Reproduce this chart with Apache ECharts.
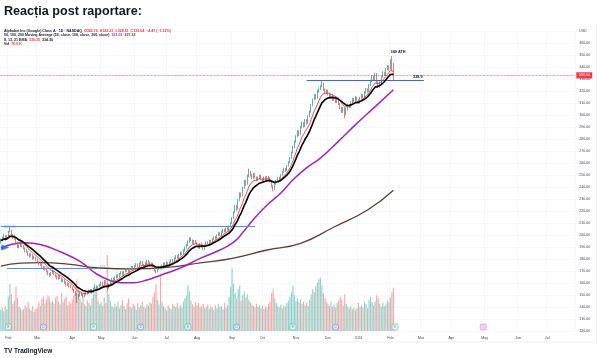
<!DOCTYPE html>
<html><head><meta charset="utf-8">
<script src="https://cdn.jsdelivr.net/npm/echarts/dist/echarts.min.js"></script>
<style>html,body{margin:0;padding:0;background:#fff}#c{width:600px;height:358px}</style>
</head><body><div id="c"></div>
<script>
// ---- categories (trading days) ----
const startDate = [2023, 0, 25];
const barCount = 378;
const holidays = ['2023-02-20','2023-04-07','2023-05-29','2023-06-19','2023-07-04','2023-09-04','2023-11-23','2023-12-25',
  '2024-01-01','2024-01-15','2024-02-19','2024-03-29','2024-05-27','2024-06-19','2024-07-04'];
const monthNames = ['Jan','Feb','Mar','Apr','May','Jun','Jul','Aug','Sep','Oct','Nov','Dec'];

// ---- price data (daily) ----
const opens = [193.8,195.9,197.4,199.1,196.8,199.5,204.2,203.6,199.8,197.1,
197.8,193.0,189.6,191.0,192.4,190.1,189.3,185.8,185.9,183.4,
183.1,183.2,180.6,181.2,179.6,177.2,175.0,176.1,173.5,171.1,
172.2,169.8,166.7,166.3,168.0,169.6,167.5,165.8,163.5,165.7,
164.4,161.2,162.5,160.6,158.4,159.2,157.8,156.7,154.3,152.9,
150.8,147.4,149.2,151.5,150.6,148.9,150.5,152.8,151.4,153.2,
154.6,152.4,155.7,157.3,154.9,157.2,158.1,160.6,158.7,161.8,
159.4,156.0,159.2,161.0,163.8,162.4,164.5,166.6,165.3,167.1,
169.2,166.5,169.5,171.8,170.6,168.9,171.6,173.7,172.4,173.8,
175.9,173.5,176.0,177.8,175.4,173.9,176.5,178.6,177.3,174.6,
176.4,173.5,170.1,169.4,171.5,173.8,172.0,174.3,176.6,175.5,
177.2,174.5,177.0,179.4,178.0,180.3,182.7,180.8,183.4,185.5,
184.4,187.0,189.3,191.5,194.2,197.5,195.9,193.1,195.4,193.7,
192.1,189.2,192.9,190.6,188.4,191.1,194.1,192.2,195.5,193.8,
196.3,198.6,196.7,199.5,201.8,199.9,202.4,204.6,202.8,205.9,
204.1,206.9,209.8,214.3,219.0,224.3,221.8,229.2,234.6,233.0,
239.4,245.1,242.6,249.2,252.7,249.9,247.5,250.9,248.4,245.6,
247.1,249.5,246.9,245.0,248.2,246.0,248.7,247.4,245.1,240.9,
238.0,242.6,244.8,247.9,246.0,250.1,252.9,255.2,254.1,257.9,
260.6,264.2,268.7,273.2,277.8,282.1,286.5,284.0,289.8,293.5,
290.7,295.7,293.4,299.1,302.8,308.3,313.0,316.6,314.3,319.9,
321.5,323.9,326.4,321.1,318.4,320.5,317.2,314.6,316.6,312.5,
314.9,310.9,314.0,309.1,306.4,302.5,305.8,300.5,304.6,308.6,
306.4,310.7,313.5,311.5,314.8,312.6,310.3,313.6,316.7,314.8,
318.4,321.6,319.5,324.9,328.5,332.0,329.2,334.4,327.1,323.5,
326.6,331.8,335.5,333.3,338.2,340.7,338.5,344.9,342.76];
const highs = [196.9,198.6,201.2,199.8,199.9,203.6,207.05,204.4,200.9,200.3,
198.2,194.1,192.2,193.9,193.1,191.4,189.8,188.3,186.4,184.7,
185.2,183.9,182.7,182.0,180.3,178.1,177.8,176.6,174.2,173.9,
172.9,170.4,168.2,169.1,171.2,170.3,168.0,166.4,166.9,166.5,
164.9,163.8,163.1,161.3,160.5,159.9,158.6,157.3,155.2,153.6,
151.4,150.6,152.9,152.3,151.1,151.8,153.3,153.4,154.5,155.1,
155.0,156.2,159.1,158.0,157.7,159.4,161.3,161.1,162.4,162.3,
160.1,159.7,162.0,164.3,164.4,165.6,167.2,167.1,168.3,169.8,
169.7,170.1,172.4,172.3,171.1,172.7,174.2,174.3,174.9,176.5,
176.4,177.1,178.4,178.3,175.9,177.6,179.2,179.1,177.8,176.9,
176.8,174.0,171.0,172.6,174.3,174.4,175.4,177.1,177.2,177.8,
177.6,178.1,179.9,179.9,181.4,183.2,183.1,184.5,186.1,186.0,
188.2,190.4,192.7,195.4,198.3,198.0,196.3,195.9,196.0,194.3,
192.6,193.4,193.5,191.1,192.2,194.6,194.7,196.0,196.1,197.4,
199.1,199.2,200.6,202.3,202.4,203.5,205.1,205.2,206.4,206.5,
208.0,210.3,214.9,219.7,225.1,225.0,229.8,235.6,235.4,240.1,
245.9,246.0,250.2,255.3,253.4,251.0,251.7,251.5,249.0,248.5,
250.3,250.1,247.5,248.8,248.7,249.3,249.1,247.9,245.6,241.5,
243.8,245.9,248.4,248.5,250.7,253.4,256.0,255.9,258.5,261.4,
265.0,269.6,274.1,278.8,283.1,287.5,287.2,290.7,294.6,294.2,
296.5,296.4,299.9,303.6,309.1,313.8,317.5,317.3,320.8,323.1,
324.9,328.9,327.1,322.0,321.5,321.1,318.0,317.5,317.2,315.8,
315.5,314.9,314.6,310.0,307.0,306.7,306.4,306.1,309.5,309.2,
311.6,314.4,314.1,315.7,315.4,313.2,315.1,317.6,317.3,319.9,
322.5,322.2,325.8,329.4,332.9,332.7,335.3,335.0,328.0,328.1,
332.7,336.4,336.1,339.1,341.6,341.3,346.5,349.0,343.21];
const lows = [192.7,194.8,196.9,195.3,195.9,198.7,202.1,199.2,196.5,196.2,
191.6,189.2,188.7,190.2,189.7,188.2,185.4,185.1,182.6,181.3,
181.9,179.5,179.8,178.4,176.9,174.6,174.3,172.4,170.8,170.4,
168.7,166.5,165.1,165.7,167.4,166.4,164.6,162.9,162.8,163.2,
160.8,160.5,159.4,157.2,157.6,156.3,155.4,153.9,151.7,149.4,
143.2,146.3,148.5,149.1,147.6,148.0,149.8,150.2,150.7,152.3,
151.1,151.6,154.8,153.5,154.1,156.5,157.4,157.5,158.0,158.9,
153.8,155.2,158.4,160.3,161.3,161.7,163.8,164.2,164.6,166.5,
165.9,165.8,168.8,169.4,167.8,168.2,170.9,171.2,171.6,173.1,
172.9,172.8,175.3,174.2,172.7,173.2,175.8,176.1,174.0,173.8,
172.3,169.6,167.9,168.7,170.8,171.4,171.3,173.6,174.9,174.8,
173.9,173.8,176.3,177.3,177.4,179.6,180.2,180.1,182.7,183.2,
183.7,186.3,188.6,190.8,193.6,194.7,192.5,192.4,193.1,190.9,
188.6,188.5,189.4,187.8,187.7,190.4,191.6,191.5,193.2,193.1,
195.6,196.1,196.0,198.8,199.3,199.2,201.7,202.2,202.1,203.5,
203.4,206.2,209.1,213.5,218.2,220.3,221.1,228.4,231.2,232.2,
238.6,241.0,241.8,248.3,248.6,246.7,246.8,247.2,244.8,244.9,
246.4,245.8,244.2,244.3,245.3,245.4,246.2,243.9,239.7,236.4,
237.4,241.9,244.1,245.4,245.4,249.5,252.1,252.6,253.4,257.0,
259.8,263.5,267.9,272.4,276.9,281.3,282.4,283.2,288.9,289.6,
289.9,292.0,292.6,298.2,301.9,307.4,312.1,312.8,313.5,318.6,
320.7,323.1,320.3,317.4,317.6,316.3,313.7,313.9,311.6,311.8,
310.0,310.2,308.2,304.9,301.6,301.8,297.4,299.7,303.9,305.5,
305.7,309.9,310.6,310.8,311.7,309.4,309.6,312.9,313.9,314.1,
317.7,318.6,318.8,324.1,327.6,328.3,328.5,326.2,322.6,322.8,
325.9,331.0,332.4,332.6,337.4,336.9,337.8,336.8,328.51];
const closes = [195.5,197.8,199.6,196.4,199.2,202.8,205.1,200.3,197.6,199.0,
192.4,190.1,191.3,192.8,190.6,188.9,186.2,187.4,183.1,182.5,
184.0,180.2,181.5,179.3,177.8,175.4,176.9,173.2,171.6,172.8,
169.5,167.3,165.9,168.4,170.1,167.2,165.4,163.8,166.1,164.0,
161.7,162.9,160.3,158.1,159.6,157.2,156.4,154.8,152.6,150.3,
146.9,149.5,151.8,150.2,148.7,150.9,152.4,151.1,153.6,154.2,
152.0,155.3,157.8,154.6,156.9,158.5,160.2,158.4,161.5,159.8,
156.3,158.9,161.2,163.5,162.1,164.8,166.3,165.0,167.4,168.9,
166.8,169.2,171.5,170.3,168.7,171.9,173.4,172.1,174.0,175.6,
173.8,176.2,177.5,175.1,173.6,176.8,178.3,177.0,174.9,176.1,
173.2,170.4,169.1,171.8,173.5,172.2,174.6,176.3,175.8,176.9,
174.8,177.3,179.1,178.2,180.6,182.4,181.0,183.7,185.2,184.1,
187.3,189.6,191.8,194.5,197.2,195.6,193.4,195.1,194.0,191.8,
189.5,192.6,190.3,188.7,191.4,193.8,192.5,195.2,194.1,196.6,
198.3,197.0,199.8,201.5,200.2,202.7,204.3,203.1,205.6,204.4,
207.2,209.5,213.8,218.6,223.9,221.4,228.7,234.2,232.5,238.9,
244.6,242.1,248.7,252.3,249.5,247.8,250.6,248.1,245.9,247.4,
249.2,246.7,245.3,247.9,246.2,248.4,247.1,244.8,240.6,238.2,
242.9,245.1,247.6,246.3,249.8,252.6,254.9,253.8,257.6,260.3,
263.9,268.4,272.9,277.5,281.8,286.2,283.7,289.5,293.2,290.8,
295.3,293.1,298.7,302.4,307.9,312.6,316.2,314.0,319.5,321.8,
323.6,326.0,321.4,318.7,320.2,317.5,314.9,316.3,312.8,314.6,
311.2,313.7,309.4,306.1,302.8,305.5,300.2,304.9,308.3,306.7,
310.4,313.2,311.8,314.5,312.9,310.6,313.9,316.4,315.1,318.7,
321.3,319.8,324.6,328.2,331.7,329.5,334.1,327.4,323.8,326.9,
331.5,335.2,333.6,337.9,340.4,338.1,345.2,337.51,333.04];
const volumes = [28,31,26,33,29, 45,62,48,36,40, 58,44,32,30,27, 29,34,31,38,30, 27,33,25,29,31,
38,33,42,45,36, 41,47,44,38,40, 36,43,46,39,35, 50,38,42,45,34, 39,36,41,47,52,
68,56,43,38,46, 35,33,40,37,34, 43,49,58,52,40, 35,38,33,44,37, 100,48,40,33,31,
36,32,38,30,34, 41,33,29,37,43, 32,30,36,33,28, 37,31,34,39,32, 30,35,33,38,36,
45,51,62,41,35, 72,38,33,30,27, 34,31,29,36,33, 32,37,30,34,31, 39,43,47,60,52,
40,35,32,38,34, 37,31,33,36,30, 32,35,29,33,31, 28,34,30,36,32, 33,29,37,31,34,
45,58,82,62,50, 43,55,60,40,47, 52,44,48,41,38, 35,33,31,36,32, 34,30,33,29,32,
31,36,39,50,55, 43,37,33,31,35, 30,34,32,37,40, 45,51,60,47,39, 43,38,41,36,39,
34,37,33,41,48, 55,51,59,64,68, 70,60,50,43,38, 36,33,39,32,35, 31,37,40,45,41,
34,48,36,32,30, 33,29,31,28,30, 37,32,34,31,39, 36,30,41,45,38, 34,39,47,43,36,
32,37,33,35,40, 38,44,51,57];

// ---- moving averages: [bar index, value] ----
const ma50Points = [[0,189],[16,193.5],[26,192],[39,186],[52,178],[63,167.5],[72,162],[79,160.3],[87,160.2],
  [96,162.5],[105,166.5],[118,172.5],[131,180.5],[144,187.5],[153,194],[159,202],[166,213],[175,225],
  [184,235],[192,246],[201,256],[210,264],[221,277],[234,293],[246,307],[258,321.02]];
const ma200Points = [[0,174],[13,176.5],[26,177],[44,175.8],[65,172.5],[87,171.7],[109,173],[131,176.7],
  [153,180.8],[175,187.5],[197,193],[219,206.7],[241,220.8],[258,237.22]];

// ---- annotations ----
const squareEvents = [5, 61, 123, 192, 259];
const circleEvents = [28, 92, 155, 220];
const futureEvents = [317];
const priceTickMin = 120, priceTickMax = 370, priceTickStep = 10;

// build categories
const dates = [];
(function(){
  let t = Date.UTC(startDate[0], startDate[1], startDate[2]);
  while (dates.length < barCount) {
    const d = new Date(t); const wd = d.getUTCDay(); const s = d.toISOString().slice(0,10);
    if (wd !== 0 && wd !== 6 && holidays.indexOf(s) < 0) dates.push(s);
    t += 86400000;
  }
})();
const isMonthStart = dates.map((s,i) => i > 0 && s.slice(5,7) !== dates[i-1].slice(5,7));

function ema(arr, n) {
  const k = 2/(n+1); const out = []; let prev;
  arr.forEach((v,i) => { prev = i === 0 ? v : v*k + prev*(1-k); out.push(+prev.toFixed(2)); });
  return out;
}
const ema8 = ema(closes, 8), ema13 = ema(closes, 13);
const upColor = '#26a69a', downColor = '#ef5350';
const FONT = 'Liberation Sans';

const candleData = closes.map((c,i) => [opens[i], c, lows[i], highs[i]]);
const volData = volumes.map((v,i) => ({value: v, itemStyle: {color: closes[i] >= opens[i] ? 'rgba(38,166,154,0.5)' : 'rgba(239,83,80,0.5)'}}));
const toPairs = pts => pts.map(p => [dates[p[0]], p[1]]);

const LFS = 3.6;
const txt = (c) => ({fontSize: LFS, color: c, fontFamily: FONT, lineHeight: 4.4});
const legendStyle = (rich) => ({fontSize: LFS, lineHeight: 4.4, fontFamily: FONT, color: '#131722', rich: rich});

const chart = echarts.init(document.getElementById('c'), null, {renderer: 'canvas'});
chart.setOption({
  animation: false,
  backgroundColor: '#ffffff',
  title: [
    {text: 'Reacția post raportare:', left: 4, top: 5, padding: 0,
     textStyle: {fontFamily: FONT, fontSize: 12.6, fontWeight: 'bold', color: '#131722', lineHeight: 14}},
    {text: '{k|Alphabet Inc (Google) Class A · 1D · NASDAQ}  {r|O342.76  H343.21  L328.51  C333.04  −4.47 (−1.32%)}',
     left: 4, top: 28.8, padding: 0, textStyle: legendStyle({k: txt('#131722'), r: txt('#f23645')})},
    {text: '{k|50, 100, 200 Moving Average (50, close, 100, close, 200, close)}  {p|321.02}  {b|237.22}',
     left: 4, top: 33.1, padding: 0, textStyle: legendStyle({k: txt('#131722'), p: txt('#9c27b0'), b: txt('#5d4037')})},
    {text: '{k|8, 13, 21 EMA}  {r|336.35}  {k|334.36}',
     left: 4, top: 37.5, padding: 0, textStyle: legendStyle({k: txt('#131722'), r: txt('#f23645')})},
    {text: '{k|Vol}  {r|70.6 K}',
     left: 4, top: 41.8, padding: 0, textStyle: legendStyle({k: txt('#131722'), r: txt('#f23645')})},
    {text: 'TV TradingView', left: 4, top: 347, padding: 0,
     textStyle: {fontFamily: FONT, fontSize: 6.5, fontWeight: 'bold', color: '#131722', lineHeight: 8}}
  ],
  graphic: [
    {type: 'line', shape: {x1: 596.5, y1: 24, x2: 596.5, y2: 342}, style: {stroke: '#e0e3eb', lineWidth: 0.6}, silent: true},
    {type: 'line', shape: {x1: 0, y1: 342, x2: 596.5, y2: 342}, style: {stroke: '#e0e3eb', lineWidth: 0.6}, silent: true}
  ],
  grid: {left: 0, right: 24.7, top: 31, bottom: 27, outerBoundsMode: 'none', containLabel: false},
  xAxis: {
    type: 'category', data: dates, boundaryGap: true,
    axisLine: {show: false}, axisTick: {show: false},
    axisLabel: {interval: (i) => isMonthStart[i], fontSize: 3.6, color: '#434651', fontFamily: FONT, margin: 5,
      formatter: (v) => { const m = +v.slice(5,7) - 1; return m === 0 ? v.slice(0,4) : monthNames[m]; }},
    splitLine: {show: true, interval: (i) => isMonthStart[i], lineStyle: {color: '#f0f2f6', width: 0.6}}
  },
  yAxis: [
    {type: 'value', position: 'right', min: priceTickMin, max: priceTickMax, interval: priceTickStep, scale: false,
     axisLine: {show: false}, axisTick: {show: false},
     axisLabel: {fontSize: 3.6, color: '#434651', fontFamily: FONT, margin: 4, align: 'left',
       formatter: (v) => v === priceTickMax ? 'USD' : v.toFixed(2)},
     splitLine: {show: true, lineStyle: {color: '#f0f2f6', width: 0.6}}},
    {type: 'value', min: 0, max: 395, show: false, splitLine: {show: false}},
    {type: 'value', min: 0, max: 100, show: false, splitLine: {show: false}}
  ],
  series: [
    {type: 'bar', name: 'Vol', yAxisIndex: 1, data: volData, barCategoryGap: '25%', z: 1, silent: true},
    {type: 'line', name: 'MA200', data: toPairs(ma200Points), smooth: true, showSymbol: false, z: 2,
     lineStyle: {color: '#5d4037', width: 1.3}},
    {type: 'line', name: 'MA50', data: toPairs(ma50Points), smooth: true, showSymbol: false, z: 2,
     lineStyle: {color: '#9c27b0', width: 1.5}},
    {type: 'candlestick', name: 'Price', data: candleData, barWidth: '70%', z: 3,
     itemStyle: {color: upColor, color0: downColor, borderColor: upColor, borderColor0: downColor, borderWidth: 0.8},
     markLine: {
       symbol: 'none', silent: true, label: {show: false},
       data: [
         [{coord: [dates[0], 207.05], lineStyle: {color: '#5b8def', width: 1.2, type: 'solid'}}, {coord: [dates[167], 207.05]}],
         [{coord: [dates[4], 172.3], lineStyle: {color: '#5b8def', width: 1.2, type: 'solid'}}, {coord: [dates[65], 172.3]}],
         [{coord: [dates[201], 328.9], lineStyle: {color: '#3f66d6', width: 1, type: 'solid'}}, {coord: [dates[278], 328.9]}],
         {yAxis: 333.04, lineStyle: {color: '#f23645', type: 'dotted', width: 0.7},
          label: {show: true, position: 'end', distance: 1, formatter: '333.04', color: '#fff', backgroundColor: '#f23645',
            fontSize: 3.6, fontFamily: FONT, padding: [1.2, 2.5, 1, 2.5]}}
       ]
     },
     markPoint: {
       silent: true,
       data: [
         {coord: [dates[6], 207.05], symbol: 'rect', symbolSize: 0.1,
          label: {show: true, position: 'inside', formatter: '207.05', color: '#5b8def', fontSize: 3.8, fontFamily: FONT}},
         {coord: [dates[67], 173.3], symbol: 'rect', symbolSize: 0.1,
          label: {show: true, position: 'inside', formatter: '172', color: '#5b8def', fontSize: 3.2, fontFamily: FONT}},
         {coord: [dates[274], 331.3], symbol: 'rect', symbolSize: 0.1,
          label: {show: true, position: 'inside', formatter: '328.9', color: '#131722', fontWeight: 'bold', fontSize: 3.8, fontFamily: FONT}},
         {coord: [dates[261], 352.6], symbol: 'rect', symbolSize: 0.1,
          label: {show: true, position: 'inside', formatter: '349 ATH', color: '#131722', fontWeight: 'bold', fontSize: 3.8, fontFamily: FONT}},
         {coord: [dates[3], 189.5], symbol: 'path://M0,0 L10,5 L0,10 Z', symbolSize: [8, 6],
          itemStyle: {color: '#2962ff', opacity: 0.85}, label: {show: false}}
       ]
     }},
    {type: 'line', name: 'EMA8', data: ema8, showSymbol: false, z: 4, lineStyle: {color: '#f23645', width: 0.9}},
    {type: 'line', name: 'EMA13', data: ema13, showSymbol: false, z: 5, lineStyle: {color: '#000000', width: 1.6}},
    {type: 'scatter', yAxisIndex: 2, z: 6, silent: true,
     data: squareEvents.map(i => ({value: [dates[i], 0], symbol: 'roundRect',
       itemStyle: {color: '#eef7f6', borderColor: '#4db6ac', borderWidth: 0.8}, label: {formatter: 'E'}}))
       .concat(circleEvents.map(i => ({value: [dates[i], 0], symbol: 'circle',
       itemStyle: {color: '#edf2ff', borderColor: '#5b8def', borderWidth: 0.8}, label: {formatter: 'D'}})))
       .concat(futureEvents.map(i => ({value: [dates[i], 0], symbol: 'roundRect',
       itemStyle: {color: '#efc6ef', borderColor: '#d98ad9', borderWidth: 0.8}, label: {formatter: ''}}))),
     symbolSize: 6, symbolOffset: [0, -4],
     label: {show: true, position: 'inside', fontSize: 3.2, color: '#5b6b7a', fontFamily: FONT, offset: [0, 0]}}
  ]
});
</script></body></html>
